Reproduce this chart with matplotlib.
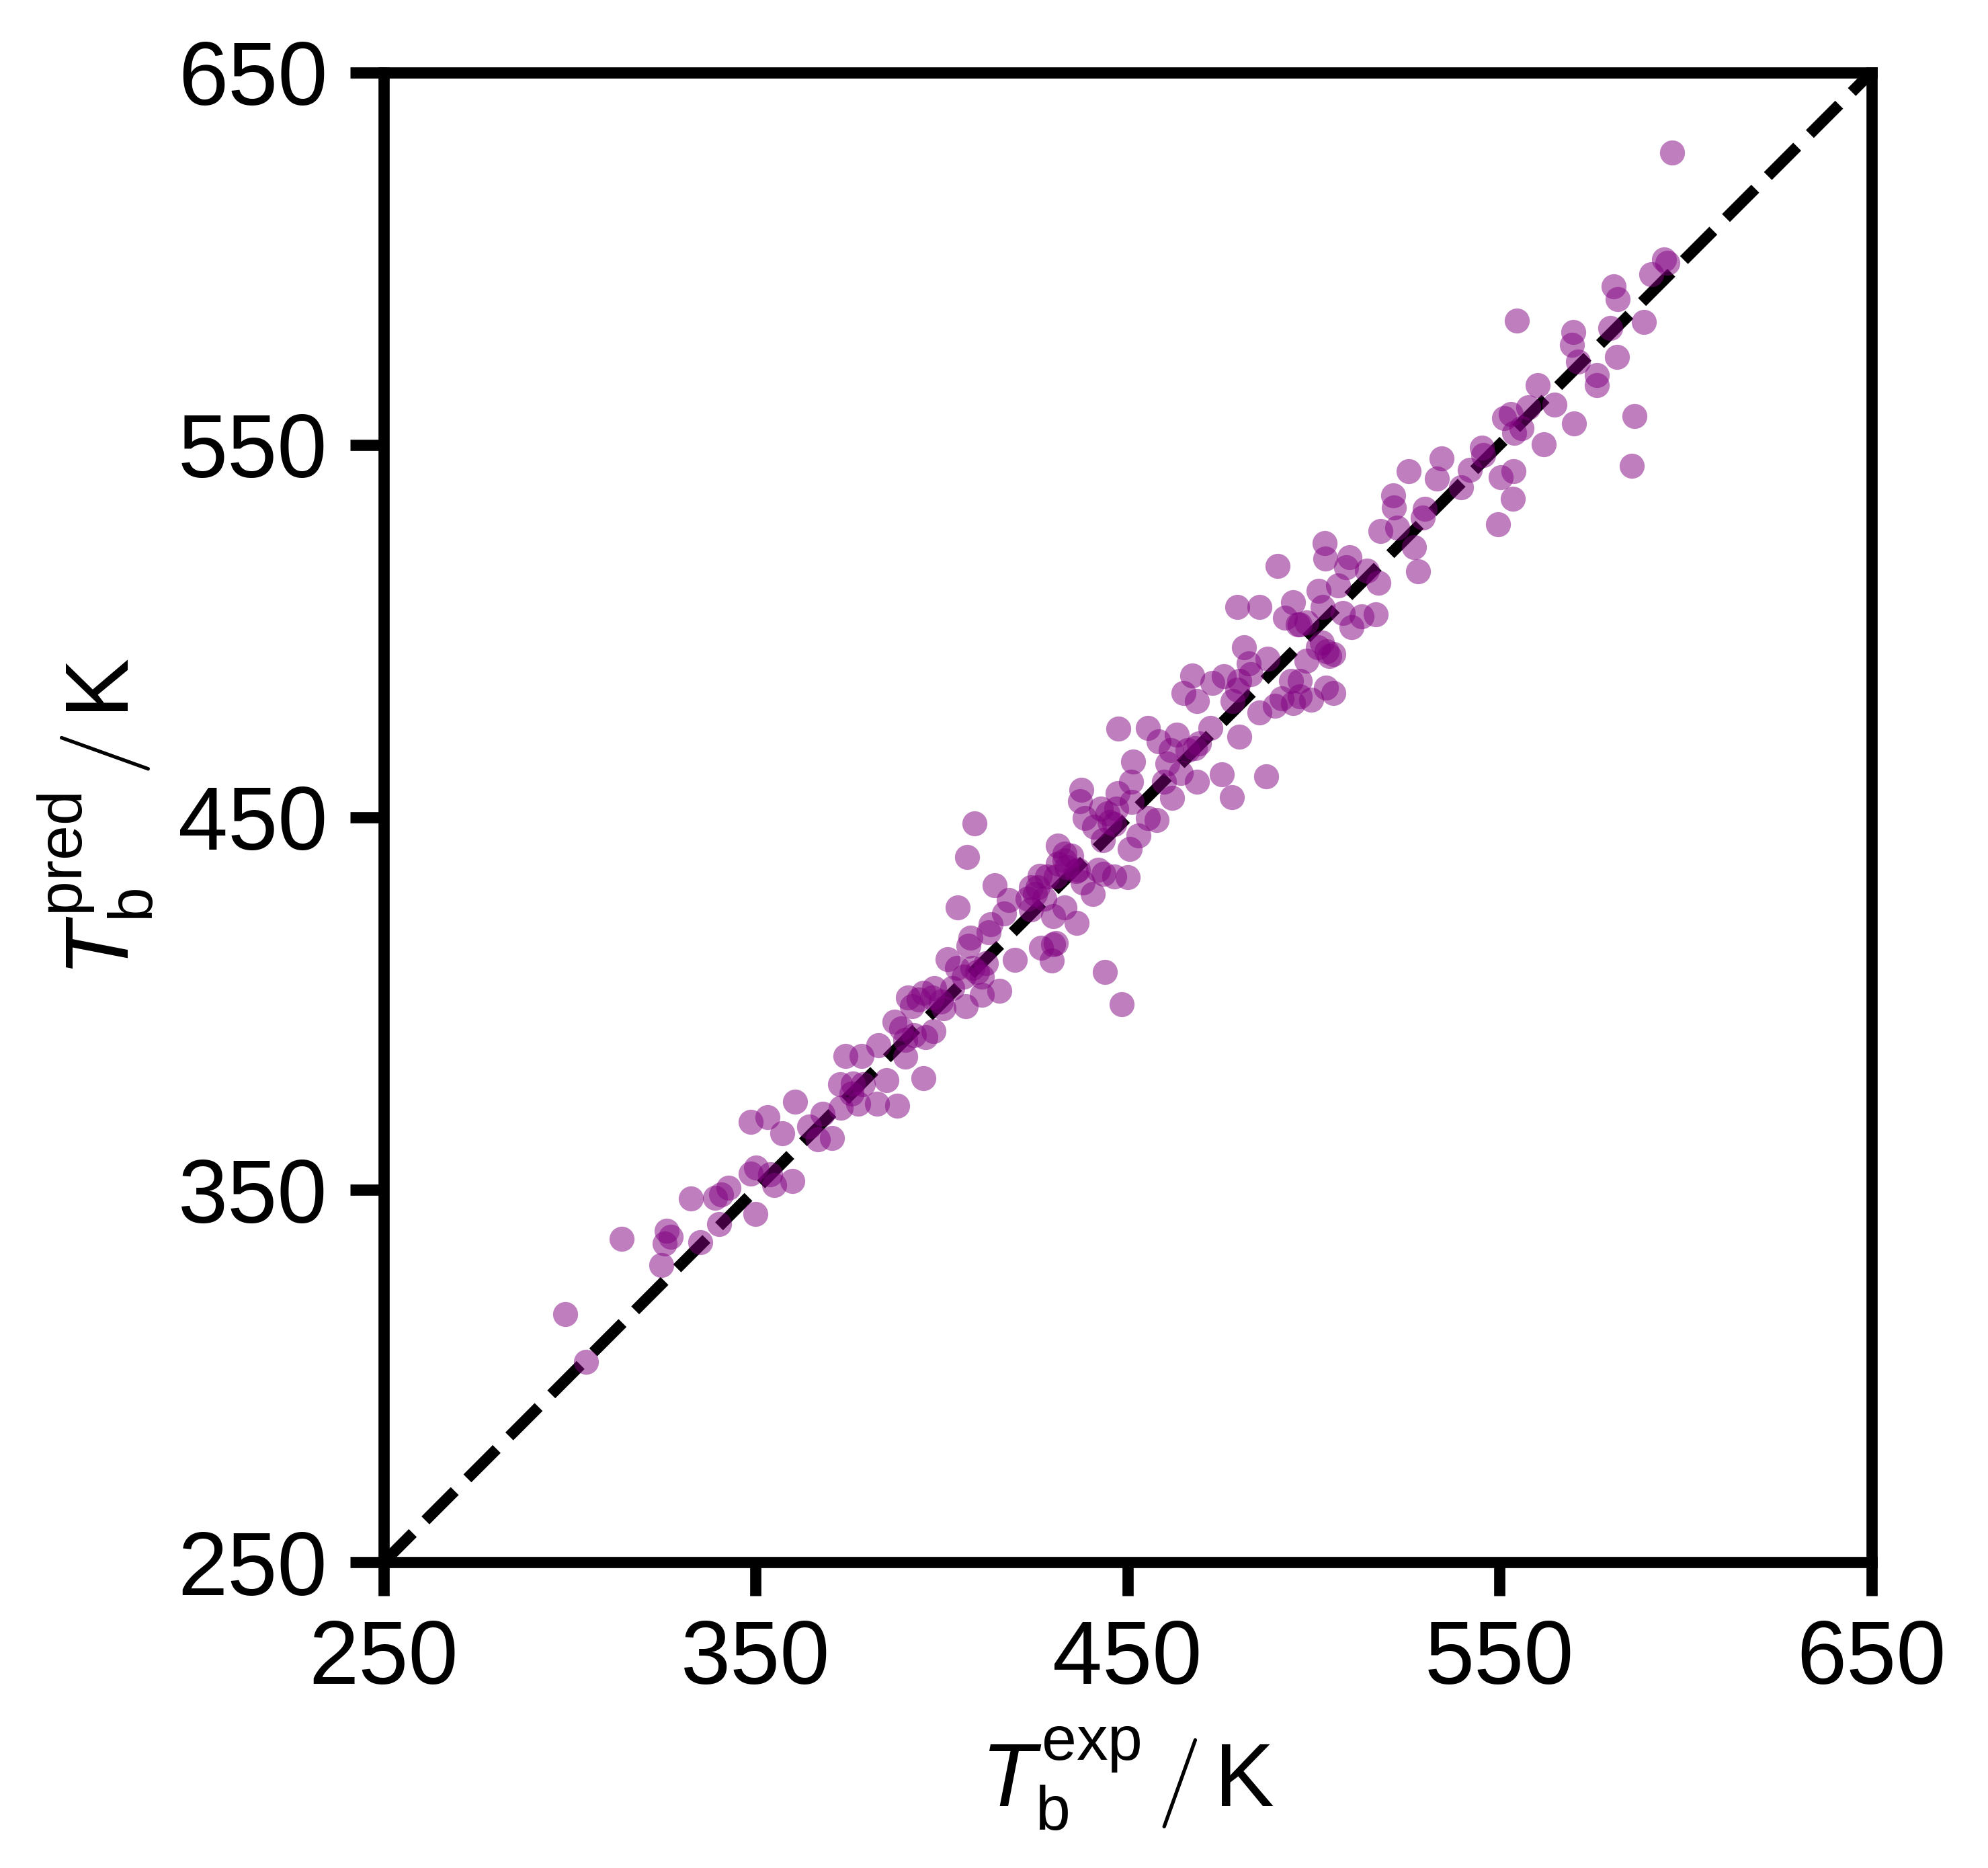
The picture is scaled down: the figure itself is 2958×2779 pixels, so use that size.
import matplotlib
matplotlib.use("Agg")
import matplotlib.pyplot as plt

x_exp = [
    298.8, 304.4, 314.1, 324.6, 325.5, 326.1, 327.3, 335.1, 340.2, 332.7,
    339.1, 340.7, 342.7, 349.9, 348.8, 350.1, 353.9, 355.0, 359.9, 348.8,
    353.3, 357.2, 360.6, 364.4, 366.7, 370.5, 368.0, 372.9, 372.7, 376.1,
    377.7, 374.1, 378.6,
    406.8, 404.3, 414.3, 418.1, 416.8, 413.3, 407.8, 412.7, 419.8, 443.9,
    448.4, 395.2, 388.1, 382.6, 383.1, 385.2, 390.3, 387.3, 390.9, 395.1,
    398.1, 395.7, 397.8, 392.1, 400.5, 404.1, 407.2, 409.6, 406.6, 415.6,
    410.8, 402.9, 401.7, 426.7, 429.7, 430.0, 425.2, 425.8, 431.2, 443.6,
    424.0, 430.0, 423.1, 427.6, 426.4, 424.0, 433.7, 436.1, 433.1, 408.4,
    410.8, 406.0, 412.0, 393.9, 397.5, 399.9, 389.1, 392.7, 390.3, 375.8,
    378.9, 408.8,
    447.5, 455.4, 487.2, 478.0, 475.3, 480.1, 481.4, 467.4, 465.0, 468.7,
    472.9, 475.9, 480.1, 482.5, 487.6, 489.7, 485.5, 494.5, 499.4, 505.4,
    503.3, 505.4, 498.2, 496.4, 492.4, 498.2, 510.2, 516.8, 479.5, 485.5,
    502.4, 451.5, 458.4, 463.2, 472.3, 468.1, 461.7, 468.7, 464.4, 462.0,
    459.9, 450.9, 447.3, 437.6, 437.3, 438.5, 444.6, 451.2, 455.4, 457.8,
    450.6, 443.4, 446.4, 453.0, 431.3, 434.9, 450.0, 446.4, 442.2, 440.7,
    436.4, 430.7, 433.1, 428.3,
    442.8, 445.2, 441.0, 447.0, 433.1, 436.7, 430.7, 437.9, 466.2, 469.3,
    460.8, 479.5, 483.1, 478.3, 501.2, 503.6, 495.8,
    528.1, 549.6, 527.0, 529.3, 530.0, 522.6, 518.0, 521.6, 521.5, 525.5,
    533.1, 534.4, 539.6, 542.0, 545.6, 550.3, 553.7, 553.5, 585.5, 503.0,
    503.2, 509.6, 508.7, 514.4, 517.4, 512.9, 506.6, 501.4, 494.5, 507.8,
    490.3, 496.3, 502.3, 504.2, 493.9, 491.5, 496.3,
    596.4, 595.1, 594.2, 590.8, 580.7, 581.7, 554.7, 588.9, 579.8, 569.8,
    569.5, 571.2, 581.6, 576.2, 576.2, 560.3, 564.8, 557.7, 553.1, 551.2,
    556.0, 554.0, 570.1, 586.2, 561.9, 545.3,
]
y_pred = [
    316.7, 303.8, 336.9, 329.9, 335.6, 339.1, 337.4, 336.0, 340.9, 347.7,
    347.9, 348.8, 350.5, 343.6, 354.4, 356.0, 354.2, 351.3, 352.4, 368.3,
    369.6, 365.1, 373.6, 366.9, 363.5, 364.0, 370.5, 372.0, 378.4, 378.6,
    373.2, 385.9, 386.0,
    439.4, 425.8, 431.7, 427.8, 424.2, 421.3, 417.7, 419.2, 411.7, 408.5,
    399.8, 380.0, 372.5, 373.1, 388.8, 379.5, 385.8, 395.1, 401.7, 402.9,
    404.2, 390.9, 392.7, 399.3, 398.7, 409.6, 415.6, 408.4, 399.3, 403.5,
    402.3, 404.2, 412.0, 415.0, 411.5, 415.9, 429.4, 431.3, 437.6, 434.9,
    425.2, 423.4, 428.2, 428.2, 434.3, 431.3, 436.7, 435.5, 440.3, 409.6,
    407.2, 407.2, 410.8, 401.1, 401.7, 400.5, 393.3, 391.5, 390.3, 375.8,
    378.3, 448.3,
    473.8, 474.0, 461.0, 455.4, 461.5, 471.7, 495.7, 488.1, 483.3, 481.2,
    486.0, 487.8, 486.6, 491.4, 492.6, 480.0, 478.2, 480.6, 481.5, 483.3,
    484.8, 493.9, 492.0, 486.6, 503.5, 502.3, 501.1, 504.4, 506.5, 506.5,
    506.5, 464.9, 470.4, 472.2, 474.0, 468.6, 468.0, 459.5, 461.9, 455.3,
    459.5, 459.5, 456.5, 457.4, 454.4, 449.9, 451.1, 454.1, 449.9, 449.3,
    441.5, 443.9, 448.1, 445.1, 442.4, 439.7, 433.9, 434.2, 436.0, 429.4,
    421.6, 416.2, 425.8, 434.2,
    452.3, 448.7, 447.5, 452.3, 438.5, 436.0, 434.2, 432.4, 468.0, 469.8,
    464.4, 484.2, 488.4, 481.2, 495.7, 494.5, 501.7,
    516.1, 528.7, 522.5, 530.4, 532.8, 527.8, 526.9, 533.1, 536.4, 543.0,
    540.9, 546.3, 538.5, 543.3, 547.2, 541.3, 543.0, 535.5, 544.3, 523.7,
    519.5, 519.8, 517.1, 516.2, 512.9, 503.9, 512.3, 510.8, 507.8, 504.8,
    517.4, 501.8, 496.9, 493.3, 486.7, 481.9, 482.5,
    628.4, 598.9, 599.8, 595.7, 592.5, 589.1, 583.3, 583.0, 581.3, 580.2,
    576.8, 572.4, 573.6, 568.8, 566.0, 566.0, 560.7, 560.1, 558.3, 557.1,
    554.4, 553.2, 555.8, 557.7, 550.2, 549.3,
]
parity = [250, 650]
ticks = [250, 350, 450, 550, 650]

plt.rcParams['font.family'] = ['Liberation Sans', 'DejaVu Sans']
plt.rcParams['mathtext.fontset'] = 'custom'
plt.rcParams['mathtext.rm'] = 'Liberation Sans'
plt.rcParams['mathtext.it'] = 'Liberation Sans:italic'
plt.rcParams['mathtext.bf'] = 'cmr10'

fig = plt.figure(figsize=(2958 / 600, 2779 / 600), dpi=600)
ax = fig.add_axes([0.1929, 0.1636, 0.9414 - 0.1929, 0.9613 - 0.1636])

ax.plot(parity, parity, color='black', linestyle='--', linewidth=2, zorder=1)
ax.scatter(x_exp, y_pred, s=20, color='purple', alpha=0.5, linewidths=0, zorder=2)

ax.set_xlim(parity)
ax.set_ylim(parity)
ax.set_xticks(ticks)
ax.set_yticks(ticks)
ax.tick_params(axis='both', direction='out', length=6, width=2, labelsize=16, pad=4)
for sp in ax.spines.values():
    sp.set_linewidth(2)

ax.set_xlabel(r'$T_\mathrm{b}^\mathrm{exp}\,\mathbf{/}\,\mathrm{K}$', fontsize=16, labelpad=4)
ax.set_ylabel(r'$T_\mathrm{b}^\mathrm{pred}\,\mathbf{/}\,\mathrm{K}$', fontsize=16, labelpad=4)

fig.savefig('out.png', dpi=600)
